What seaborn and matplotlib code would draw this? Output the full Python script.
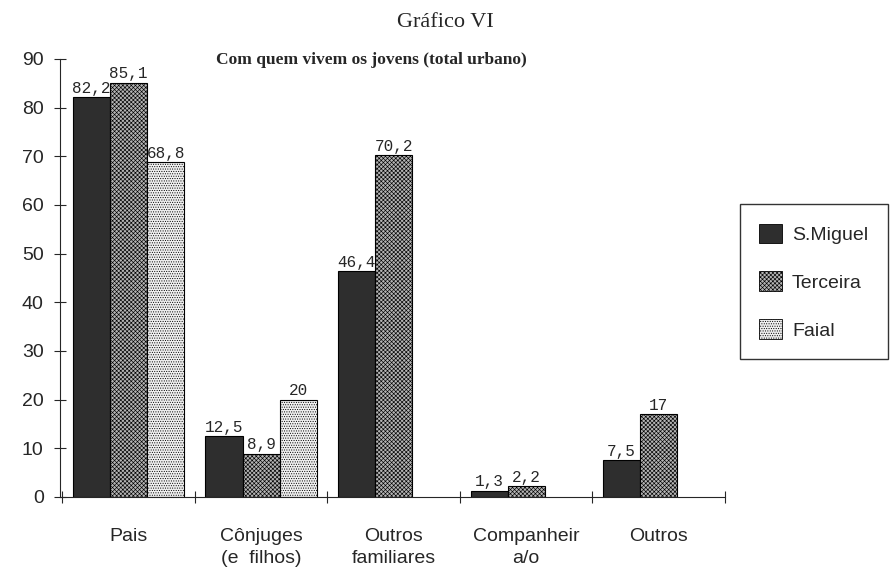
import numpy as np
import pandas as pd
import matplotlib
matplotlib.use("Agg")
import matplotlib.pyplot as plt
import seaborn as sns

# dados
categorias = ["Pais", "Cônjuges\n(e  filhos)", "Outros\nfamiliares", "Companheir\na/o", "Outros"]
ilhas = ["S.Miguel", "Terceira", "Faial"]
s_miguel = [82.2, 12.5, 46.4, 1.3, 7.5]
terceira = [85.1, 8.9, 70.2, 2.2, 17]
faial = [68.8, 20, np.nan, np.nan, np.nan]
yticks = [0, 10, 20, 30, 40, 50, 60, 70, 80, 90]

rows = []
for ilha, vals in zip(ilhas, [s_miguel, terceira, faial]):
    for cat, v in zip(categorias, vals):
        rows.append({"categoria": cat, "ilha": ilha, "valor": v})
df = pd.DataFrame(rows).dropna()

sns.set_style("ticks")
plt.rcParams["font.family"] = ["Liberation Sans", "DejaVu Sans"]
plt.rcParams["hatch.linewidth"] = 0.45

cores = {"S.Miguel": "#2e2e2e", "Terceira": "#b4b4b4", "Faial": "#f0f0f0"}
hatches = {"S.Miguel": "", "Terceira": "xxxxxxxx", "Faial": "......."}

fig = plt.figure(figsize=(8.9, 5.67), dpi=100)
ax = fig.add_axes([0.067, 0.1235, 0.7476, 0.7725])

sns.barplot(data=df, x="categoria", y="valor", hue="ilha", order=categorias,
            hue_order=ilhas, palette=cores, width=0.84, edgecolor="black",
            linewidth=0.8, saturation=1, ax=ax, legend=False)

def fmt(v):
    if float(v).is_integer():
        return "%d" % v
    return ("%.1f" % v).replace(".", ",")

for ilha, cont in zip(ilhas, ax.containers):
    for p in cont.patches:
        p.set_hatch(hatches[ilha])
    ax.bar_label(cont, labels=[fmt(p.get_height()) for p in cont.patches],
                 padding=1, fontsize=11.5, family="Liberation Mono")

ax.set_xlim(-0.52, 4.5)
ax.set_ylim(0, 90)
ax.set_yticks(yticks)
ax.set_yticklabels([str(t) for t in yticks], fontsize=14)
ax.tick_params(axis="y", direction="inout", length=9, width=0.8, pad=7)
ax.set_xticks(range(len(categorias)))
ax.set_xticklabels(categorias, fontsize=14, linespacing=1.4)
ax.tick_params(axis="x", length=0, pad=22)
ax.set_xticks(np.arange(-0.5, 5, 1), minor=True)
ax.tick_params(axis="x", which="minor", direction="inout", length=8, width=0.8)
ax.set_xlabel("")
ax.set_ylabel("")
sns.despine(ax=ax)
ax.spines["left"].set_linewidth(0.8)
ax.spines["bottom"].set_linewidth(0.8)

handles = [plt.Rectangle((0, 0), 1, 1, facecolor=cores[i], edgecolor="black",
                         linewidth=0.6, hatch=hatches[i]) for i in ilhas]
leg = fig.legend(handles, ilhas, loc="upper left", bbox_to_anchor=(0.831, 0.64),
                 fontsize=14, frameon=True, fancybox=False, edgecolor="black",
                 handlelength=1.2, handleheight=1.2, labelspacing=1.4,
                 borderpad=1.0, handletextpad=0.5, borderaxespad=0)
leg.get_frame().set_linewidth(1.0)

fig.text(0.5, 0.961, "Gráfico VI", ha="center", va="center", fontsize=16,
         family="Liberation Serif")
fig.text(0.417, 0.894, "Com quem vivem os jovens (total urbano)", ha="center",
         va="center", fontsize=12.5, weight="bold", family="Liberation Serif")

fig.savefig("out.png", dpi=100)
